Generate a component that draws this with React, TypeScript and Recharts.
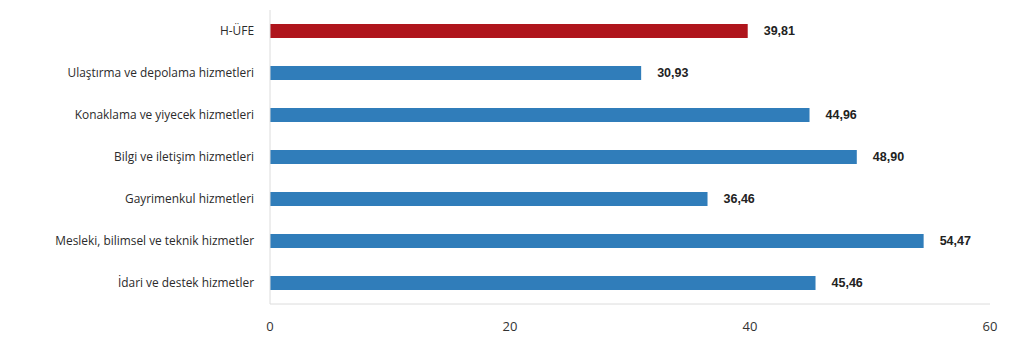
import React from 'react';
import { BarChart, Bar, XAxis, YAxis, Cell, LabelList } from 'recharts';

const categories = [
  'H-ÜFE',
  'Ulaştırma ve depolama hizmetleri',
  'Konaklama ve yiyecek hizmetleri',
  'Bilgi ve iletişim hizmetleri',
  'Gayrimenkul hizmetleri',
  'Mesleki, bilimsel ve teknik hizmetler',
  'İdari ve destek hizmetler',
];
const values = [39.81, 30.93, 44.96, 48.9, 36.46, 54.47, 45.46];
const xTicks = [0, 20, 40, 60];

const RED = '#AF151C';
const BLUE = '#307DBA';

const data = categories.map((name, i) => ({ name, value: values[i] }));

export default function App() {
  return (
    <div style={{ position: 'absolute', left: 0, top: 0, background: '#fff' }}>
      <BarChart
        width={1024}
        height={351}
        data={data}
        layout="vertical"
        margin={{ top: 10, right: 34, left: 0, bottom: 0 }}
        barCategoryGap={14}
      >
        <XAxis
          type="number"
          domain={[0, 60]}
          ticks={xTicks}
          height={47}
          axisLine={{ stroke: '#dcdcdc' }}
          tickLine={false}
          tickSize={6}
          tickMargin={12}
          tick={{ fontSize: 13, fill: '#333', fontFamily: 'Open Sans' }}
        />
        <YAxis
          type="category"
          dataKey="name"
          width={270}
          axisLine={{ stroke: '#dcdcdc' }}
          tickLine={false}
          tickSize={6}
          tickMargin={10}
          interval={0}
          tick={{ fontSize: 11.9, fill: '#2b2b2b', fontFamily: 'Open Sans', fontWeight: 500 }}
        />
        <Bar dataKey="value" barSize={14} isAnimationActive={false}>
          {data.map((d, i) => (
            <Cell key={d.name} fill={i === 0 ? RED : BLUE} />
          ))}
          <LabelList
            dataKey="value"
            position="right"
            offset={16}
            formatter={(v: number) => v.toFixed(2).replace('.', ',')}
            style={{ fontSize: 12.5, fontWeight: 'bold', fill: '#222', fontFamily: 'Liberation Sans' }}
          />
        </Bar>
      </BarChart>
    </div>
  );
}
